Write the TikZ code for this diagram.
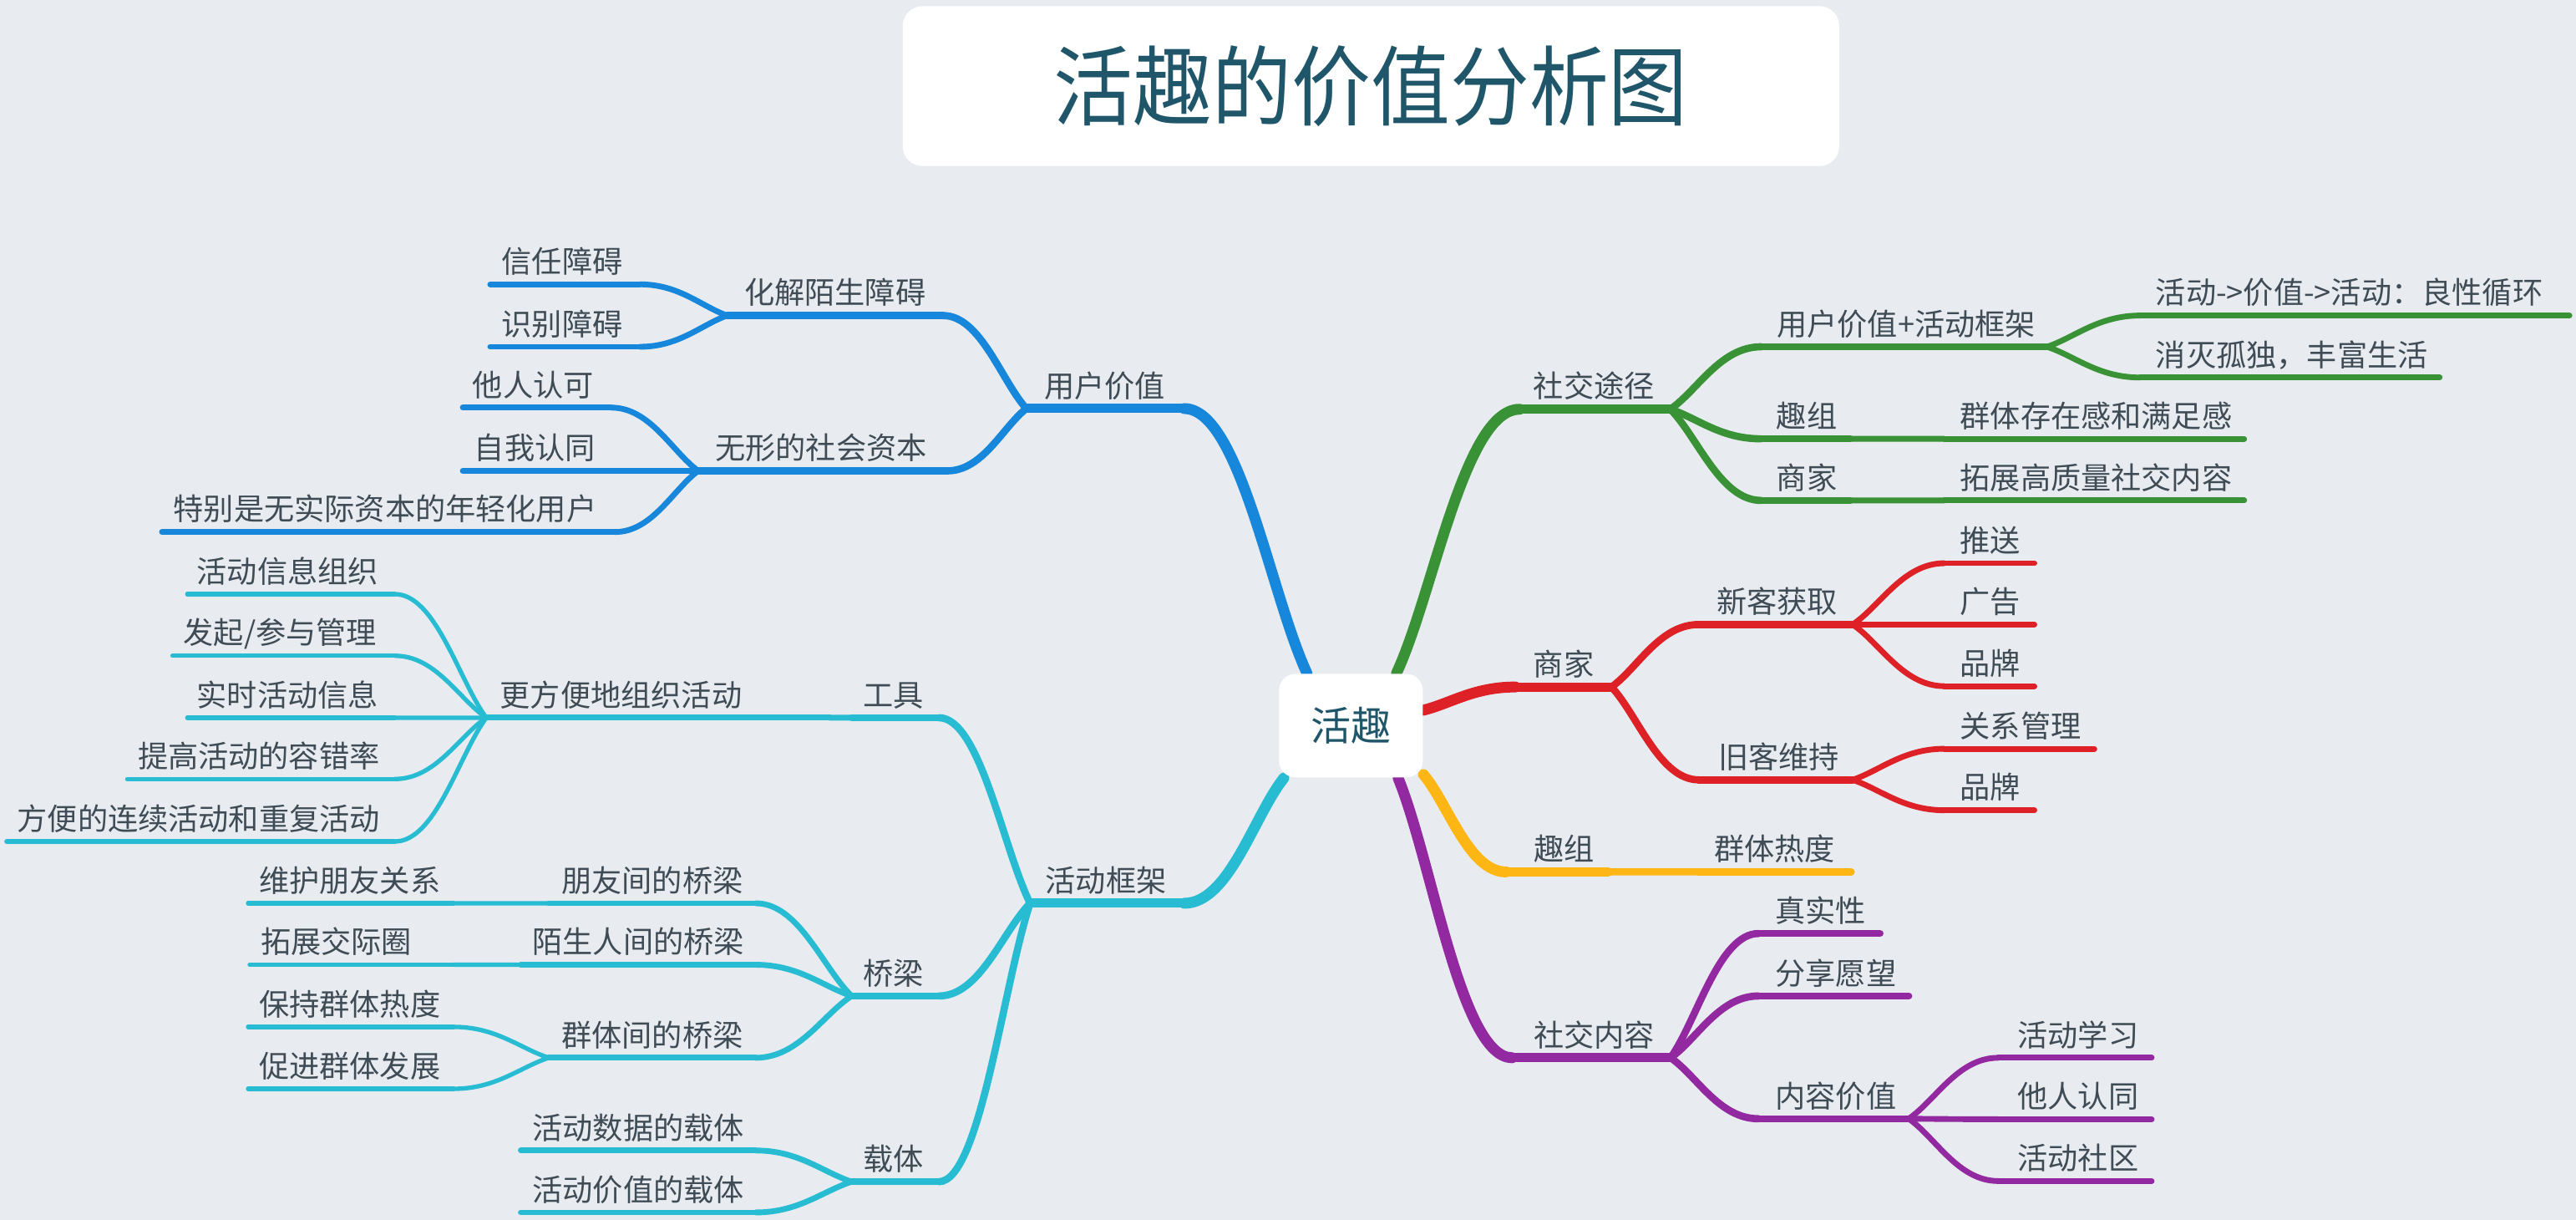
\documentclass[tikz,border=0pt]{standalone}
\usepackage{graphicx}
\usepackage{fontspec}
\setmainfont{Noto Sans CJK SC}
\usetikzlibrary{calc}
\definecolor{bg}{HTML}{E8ECF0}
\definecolor{cblue}{HTML}{1787DC}
\definecolor{cgreen}{HTML}{3A9237}
\definecolor{cred}{HTML}{DD2127}
\definecolor{ccyan}{HTML}{28BCD3}
\definecolor{cyellow}{HTML}{FDB614}
\definecolor{cpurple}{HTML}{9229A0}
\definecolor{ctext}{HTML}{3F4B55}
\definecolor{ctitle}{HTML}{1F5669}
% #1 name, #2 x left, #3 x right, #4 y, #5 text x, #6 line style, #7 text
\newcommand\mmtopic[7]{%
  \coordinate (#1-l) at (#2,#4);
  \coordinate (#1-r) at (#3,#4);
  \draw[#6] (#1-l) -- (#1-r);
  \node[lbl] (#1) at (#5-1,#4-7) {#7};
}
% #1 style, #2 from, #3 to
\newcommand\mmconn[3]{%
  \draw[#1] let \p1=(#2), \p2=(#3) in (\p1) .. controls ({0.7*\x1+0.3*\x2},{0.7*\y1+0.3*\y2}) and ({0.45*\x1+0.55*\x2},\y2) .. (\p2);
}
\begin{document}
\begin{tikzpicture}[x=0.5pt,y=-0.5pt,
  Lc/.style={line width=3.3pt,line cap=round},
  L1/.style={line width=2.8pt,line cap=round},
  L2/.style={line width=2.2pt,line cap=round},
  L3/.style={line width=1.75pt,line cap=round},
  L4/.style={line width=1.35pt,line cap=round},
  lbl/.style={anchor=base west,inner sep=0pt,text=ctext,font=\fontsize{9.2pt}{11pt}\selectfont},
  box/.style={fill=white,rounded corners=5pt,inner sep=0pt,text=ctitle}]
\fill[bg] (0,0) rectangle (1568,742.3);
\useasboundingbox (0,0) rectangle (1568,742.3);

% title
\node[box,minimum width=285pt,minimum height=48.65pt,rounded corners=6pt,font=\fontsize{26.5pt}{30pt}\selectfont] (title) at (834.5,52.4) {\scalebox{0.91}[1]{活趣的价值分析图}};

% central node placeholder (drawn last)
\path (822.3,441.5) node[minimum width=43.75pt,minimum height=31.5pt,inner sep=0pt] (ctr) {};

% ---------- blue ----------
\mmtopic{uv}{624.7}{720.8}{248.6}{636.3}{L1,cblue}{用户价值}
\mmtopic{hj}{442.6}{574}{192}{453.7}{L2,cblue}{化解陌生障碍}
\mmtopic{wx}{425}{576.6}{286.5}{436}{L2,cblue}{无形的社会资本}
\mmtopic{xr}{298.4}{389.5}{173}{306}{L3,cblue}{信任障碍}
\mmtopic{sb}{298.4}{389.5}{211}{306}{L3,cblue}{识别障碍}
\mmtopic{tr}{281.7}{372}{248}{288.3}{L3,cblue}{他人认可}
\mmtopic{zw}{281.7}{372}{286.5}{289.3}{L3,cblue}{自我认同}
\mmtopic{tb}{98.6}{374.3}{323.7}{106.2}{L3,cblue}{特别是无实际资本的年轻化用户}
\mmconn{Lc,cblue}{ctr.130.3}{uv-r}
\mmconn{L2,cblue}{uv-l}{hj-r}
\mmconn{L2,cblue}{uv-l}{wx-r}
\mmconn{L3,cblue}{hj-l}{xr-r}
\mmconn{L3,cblue}{hj-l}{sb-r}
\mmconn{L3,cblue}{wx-l}{tr-r}
\mmconn{L3,cblue}{wx-l}{zw-r}
\mmconn{L3,cblue}{wx-l}{tb-r}

% ---------- cyan ----------
\mmtopic{hk}{627}{720.8}{549.6}{637}{L1,ccyan}{活动框架}
\mmtopic{gj}{518.4}{571.5}{436.7}{526}{L2,ccyan}{工具}
\mmtopic{ql}{518.4}{571.5}{606}{526}{L2,ccyan}{桥梁}
\mmtopic{zt}{518.4}{571.5}{719}{526}{L2,ccyan}{载体}
\mmtopic{gf}{296}{505}{436.7}{305}{L3,ccyan}{更方便地组织活动}
\mmtopic{a1}{114}{240.3}{361.5}{120.4}{L4,ccyan}{活动信息组织}
\mmtopic{a2}{105}{240.3}{399}{112.3}{L4,ccyan}{发起/参与管理}
\mmtopic{a3}{114}{240.3}{436.7}{120.4}{L4,ccyan}{实时活动信息}
\mmtopic{a4}{77.5}{240.3}{474}{84.5}{L4,ccyan}{提高活动的容错率}
\mmtopic{a5}{4}{240.3}{512}{11.1}{L4,ccyan}{方便的连续活动和重复活动}
\mmtopic{b1}{334}{460}{549.6}{342.4}{L3,ccyan}{朋友间的桥梁}
\mmtopic{b2}{317}{460}{587}{324.7}{L3,ccyan}{陌生人间的桥梁}
\mmtopic{b3}{334}{460}{643.6}{342.4}{L3,ccyan}{群体间的桥梁}
\mmtopic{c1}{151}{276}{549.6}{158.3}{L4,ccyan}{维护朋友关系}
\mmtopic{c2}{152}{276}{587}{159.3}{L4,ccyan}{拓展交际圈}
\mmtopic{c3}{151}{276}{624.8}{158.3}{L4,ccyan}{保持群体热度}
\mmtopic{c4}{151}{276}{662.5}{158.3}{L4,ccyan}{促进群体发展}
\mmtopic{d1}{317}{460}{700}{324.7}{L3,ccyan}{活动数据的载体}
\mmtopic{d2}{317}{460}{737.7}{324.7}{L3,ccyan}{活动价值的载体}
\mmconn{Lc,ccyan}{ctr.218}{hk-r}
\mmconn{L2,ccyan}{hk-l}{gj-r}
\mmconn{L2,ccyan}{hk-l}{ql-r}
\mmconn{L2,ccyan}{hk-l}{zt-r}
\mmconn{L3,ccyan}{gj-l}{gf-r}
\mmconn{L4,ccyan}{gf-l}{a1-r}
\mmconn{L4,ccyan}{gf-l}{a2-r}
\mmconn{L4,ccyan}{gf-l}{a3-r}
\mmconn{L4,ccyan}{gf-l}{a4-r}
\mmconn{L4,ccyan}{gf-l}{a5-r}
\mmconn{L3,ccyan}{ql-l}{b1-r}
\mmconn{L3,ccyan}{ql-l}{b2-r}
\mmconn{L3,ccyan}{ql-l}{b3-r}
\mmconn{L4,ccyan}{b1-l}{c1-r}
\mmconn{L4,ccyan}{b2-l}{c2-r}
\mmconn{L4,ccyan}{b3-l}{c3-r}
\mmconn{L4,ccyan}{b3-l}{c4-r}
\mmconn{L3,ccyan}{zt-l}{d1-r}
\mmconn{L3,ccyan}{zt-l}{d2-r}

% ---------- green ----------
\mmtopic{sj}{925}{1016.7}{249}{934}{L1,cgreen}{社交途径}
\mmtopic{uf}{1072}{1246}{211}{1082.2}{L2,cgreen}{用户价值+活动框架}
\mmtopic{lx}{1302.6}{1564}{192}{1312.8}{L3,cgreen}{活动->价值->活动：良性循环}
\mmtopic{xm}{1302.6}{1485}{229.7}{1312.8}{L3,cgreen}{消灭孤独，丰富生活}
\mmtopic{qz}{1072}{1126.3}{267}{1082}{L2,cgreen}{趣组}
\mmtopic{qt}{1183.5}{1366}{267}{1193.7}{L3,cgreen}{群体存在感和满足感}
\mmtopic{sg}{1072}{1126.3}{304.5}{1082}{L2,cgreen}{商家}
\mmtopic{tz}{1183.5}{1366}{304.5}{1193.7}{L3,cgreen}{拓展高质量社交内容}
\mmconn{Lc,cgreen}{ctr.49.7}{sj-l}
\mmconn{L2,cgreen}{sj-r}{uf-l}
\mmconn{L2,cgreen}{sj-r}{qz-l}
\mmconn{L2,cgreen}{sj-r}{sg-l}
\mmconn{L3,cgreen}{uf-r}{lx-l}
\mmconn{L3,cgreen}{uf-r}{xm-l}
\mmconn{L3,cgreen}{qz-r}{qt-l}
\mmconn{L3,cgreen}{sg-r}{tz-l}

% ---------- red ----------
\mmtopic{sh}{922.4}{980.9}{418}{934}{L1,cred}{商家}
\mmtopic{xk}{1034}{1127.7}{380}{1045.6}{L2,cred}{新客获取}
\mmtopic{jk}{1034}{1127.7}{474.5}{1046.6}{L2,cred}{旧客维持}
\mmtopic{ts}{1183.5}{1238.3}{342.7}{1193.7}{L3,cred}{推送}
\mmtopic{gg}{1183.5}{1238.3}{380}{1193.7}{L3,cred}{广告}
\mmtopic{pp}{1183.5}{1238.3}{417.5}{1193.7}{L3,cred}{品牌}
\mmtopic{gx}{1183.5}{1274.8}{455.6}{1193.7}{L3,cred}{关系管理}
\mmtopic{pq}{1183.5}{1238.3}{493}{1193.7}{L3,cred}{品牌}
\mmconn{Lc,cred}{ctr.12.2}{sh-l}
\mmconn{L2,cred}{sh-r}{xk-l}
\mmconn{L2,cred}{sh-r}{jk-l}
\mmconn{L3,cred}{xk-r}{ts-l}
\mmconn{L3,cred}{xk-r}{gg-l}
\mmconn{L3,cred}{xk-r}{pp-l}
\mmconn{L3,cred}{jk-r}{gx-l}
\mmconn{L3,cred}{jk-r}{pq-l}

% ---------- yellow ----------
\mmtopic{yq}{916.7}{978.9}{530.5}{934.2}{L1,cyellow}{趣组}
\mmtopic{rd}{1034}{1126.8}{530.5}{1044.1}{L2,cyellow}{群体热度}
\mmconn{Lc,cyellow}{ctr.-34.2}{yq-l}
\mmconn{L2,cyellow}{yq-r}{rd-l}

% ---------- purple ----------
\mmtopic{sn}{920.5}{1016.9}{643.6}{934.2}{L1,cpurple}{社交内容}
\mmtopic{zs}{1070.4}{1144.3}{568}{1081.3}{L2,cpurple}{真实性}
\mmtopic{fx}{1070.4}{1161.8}{606}{1081.3}{L2,cpurple}{分享愿望}
\mmtopic{nz}{1070.4}{1161.8}{680.7}{1081.3}{L2,cpurple}{内容价值}
\mmtopic{xx}{1216.3}{1309.7}{643.6}{1228.7}{L3,cpurple}{活动学习}
\mmtopic{tt}{1216.3}{1309.7}{681}{1228.7}{L3,cpurple}{他人认同}
\mmtopic{sq}{1216.3}{1309.7}{718.6}{1228.7}{L3,cpurple}{活动社区}
\mmconn{Lc,cpurple}{ctr.-48}{sn-l}
\mmconn{L2,cpurple}{sn-r}{zs-l}
\mmconn{L2,cpurple}{sn-r}{fx-l}
\mmconn{L2,cpurple}{sn-r}{nz-l}
\mmconn{L3,cpurple}{nz-r}{xx-l}
\mmconn{L3,cpurple}{nz-r}{tt-l}
\mmconn{L3,cpurple}{nz-r}{sq-l}

% central node on top
\node[box,minimum width=43.75pt,minimum height=31.5pt,font=\fontsize{12.2pt}{14pt}\selectfont] (ctrbox) at (ctr.center) {活趣};
\end{tikzpicture}
\end{document}
